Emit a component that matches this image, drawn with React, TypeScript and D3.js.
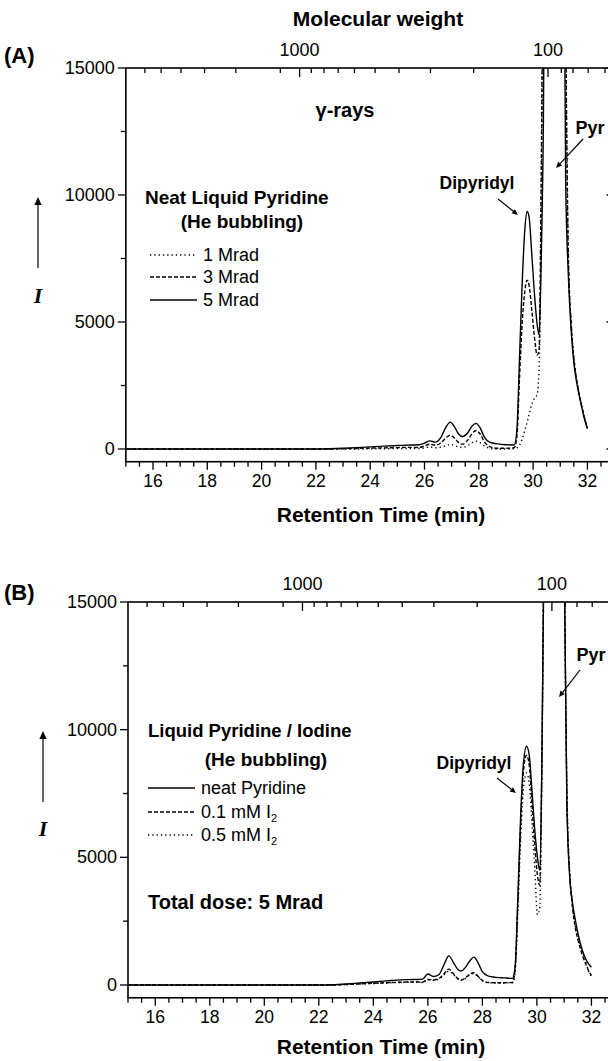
import React from 'react'
import * as d3 from 'd3'

const W = 608
const H = 1061
const SANS = '"Liberation Sans", Arial, Helvetica, sans-serif'

// ---- panel A: neat liquid pyridine, γ-rays, three doses ----
const timeA = [15, 16, 17, 18, 19, 20, 21, 22, 22.5, 23, 23.5, 24, 24.5, 25, 25.5, 25.8, 26.0, 26.2, 26.4, 26.6, 26.8, 26.95, 27.1, 27.25, 27.4, 27.6, 27.75, 27.9, 28.05, 28.2, 28.4, 28.7, 29.0, 29.3, 29.4, 29.5, 29.6, 29.7, 29.78, 29.85, 29.95, 30.05, 30.15, 30.22, 30.3, 30.38, 30.5, 30.8, 31.1, 31.2, 31.3, 31.4, 31.5, 31.6, 31.7, 31.8, 31.9, 32.0]
const mrad1 = [0, 0, 0, 0, 0, 0, 0, 0, 0, 0, 0, 5, 10, 15, 20, 20, 40, 80, 50, 70, 140, 180, 140, 80, 60, 140, 250, 310, 250, 120, 30, 0, 0, 10, 40, 150, 400, 750, 1050, 1350, 1750, 2000, 2150, 3200, 9000, 20000, 40000, 60000, 32000, 15500, 7400, 5000, 3600, 2750, 2150, 1650, 1200, 850]
const mrad3 = [0, 0, 0, 0, 0, 0, 0, 0, 0, 10, 20, 35, 45, 55, 65, 60, 120, 190, 150, 240, 450, 540, 430, 260, 190, 360, 600, 730, 590, 300, 90, 30, 30, 50, 450, 2800, 5000, 6250, 6650, 6450, 5500, 4400, 3700, 3900, 11000, 22000, 40000, 60000, 32000, 17000, 7600, 5000, 3600, 2750, 2150, 1650, 1200, 850]
const mrad5 = [0, 0, 0, 0, 0, 0, 0, 0, 10, 30, 55, 85, 115, 135, 155, 165, 230, 320, 270, 450, 880, 1060, 880, 600, 490, 650, 900, 1010, 830, 480, 270, 200, 170, 160, 700, 3600, 6600, 8700, 9350, 9150, 7700, 6100, 4900, 4500, 7500, 13000, 35000, 60000, 28000, 10500, 6800, 4700, 3400, 2650, 2100, 1600, 1150, 800]

// ---- panel B: pyridine / iodine, 5 Mrad ----
const timeB = [15, 16, 17, 18, 19, 20, 21, 22, 22.5, 23, 23.5, 24, 24.5, 25, 25.5, 25.8, 26.0, 26.2, 26.4, 26.6, 26.77, 26.95, 27.1, 27.23, 27.4, 27.55, 27.69, 27.85, 28.0, 28.2, 28.5, 28.8, 29.1, 29.2, 29.3, 29.4, 29.5, 29.62, 29.72, 29.82, 29.92, 30.02, 30.1, 30.18, 30.25, 30.35, 30.6, 30.9, 31.0, 31.1, 31.2, 31.29, 31.4, 31.5, 31.66, 31.8, 31.9, 32.0]
const neatPyr = [0, 0, 0, 0, 0, 0, 0, 0, 10, 40, 80, 120, 160, 200, 215, 230, 430, 330, 400, 820, 1140, 860, 610, 550, 720, 960, 1090, 850, 520, 360, 300, 280, 260, 700, 3400, 6500, 8600, 9350, 9000, 7600, 6100, 5000, 4500, 8500, 16000, 35000, 60000, 35000, 17000, 7000, 4300, 3350, 2600, 2050, 1380, 1000, 820, 700]
const iodine01 = [0, 0, 0, 0, 0, 0, 0, 0, 0, 20, 40, 70, 90, 110, 120, 110, 220, 200, 250, 450, 620, 420, 250, 200, 300, 430, 480, 330, 180, 100, 90, 90, 100, 600, 3200, 6200, 8300, 9000, 8600, 7100, 5500, 4300, 3900, 8500, 17000, 35000, 60000, 36000, 18000, 7500, 4400, 3200, 2300, 1800, 1200, 800, 550, 380]
const iodine05 = [0, 0, 0, 0, 0, 0, 0, 0, 0, 20, 40, 60, 80, 100, 110, 100, 200, 180, 230, 400, 540, 400, 240, 180, 280, 400, 450, 320, 170, 90, 80, 80, 90, 500, 2800, 5600, 7600, 8300, 7900, 6300, 4600, 2750, 3000, 8000, 16500, 35000, 60000, 36000, 18000, 7800, 4500, 3300, 2400, 1900, 1300, 900, 520, 350]

// ---- axes ----
const timeMajor = [16, 18, 20, 22, 24, 26, 28, 30, 32]
const yMajor = [0, 5000, 10000, 15000]
const yMinor = [2500, 7500, 12500]
// molecular weight calibration (MW -> retention time)
const mwTicks = [6000, 5000, 4000, 3000, 2000, 1250, 1000, 900, 800, 700, 600, 500, 400, 300, 200, 100, 90, 80, 70, 60]
const mwTimes = [15.7, 16.3, 17.03, 17.9, 19.05, 20.69, 21.4, 21.83, 22.3, 22.82, 23.42, 24.18, 25.06, 26.22, 27.81, 30.55, 31.04, 31.47, 32.03, 32.65]
const mwLabeled = [1000, 100]

const DOT = '1.3,3'
const DASH = '4,2'

type Series = { values: number[]; dash?: string }

interface PanelProps {
  id: string
  x0: number
  unit: number
  yTop: number
  yZero: number
  times: number[]
  series: Series[]
  titleY: number
  children?: React.ReactNode
}

const Panel: React.FC<PanelProps> = ({ id, x0, unit, yTop, yZero, times, series, titleY, children }) => {
  const x = d3.scaleLinear().domain([15, 33]).range([x0, x0 + 18 * unit])
  const y = d3.scaleLinear().domain([0, 15000]).range([yZero, yTop])
  const yMin = -500
  const cal = d3.scaleLog().domain(mwTicks).range(mwTimes)
  const xl = x(15)
  const xr = x(33)
  const yb = y(yMin)

  const line = d3.line<number>()
    .x((_, i) => x(times[i]))
    .y(v => y(v))
    .curve(d3.curveMonotoneX)

  const minorT = d3.range(15, 33.01, 0.5)

  return (
    <g>
      <defs>
        <clipPath id={'clip' + id}>
          <rect x={xl} y={yTop} width={xr - xl} height={yb - yTop} />
        </clipPath>
      </defs>
      <g clipPath={`url(#clip${id})`} fill="none" stroke="#000" strokeWidth={1.4}>
        {series.map((s, i) => (
          <path key={i} d={line(s.values) || ''} strokeDasharray={s.dash} />
        ))}
      </g>
      {/* frame */}
      <rect x={xl} y={yTop} width={xr - xl} height={yb - yTop} fill="none" stroke="#000" strokeWidth={1.6} />
      {/* bottom axis */}
      {minorT.map(t => (
        <line key={'bt' + t} x1={x(t)} x2={x(t)} y1={yb} y2={yb + (t % 2 === 0 ? 8 : 5)} stroke="#000" strokeWidth={1.3} />
      ))}
      {timeMajor.map(t => (
        <text key={'bl' + t} x={x(t)} y={yb + 19} textAnchor="middle" dominantBaseline="central" fontFamily={SANS} fontSize={17.5}>{t}</text>
      ))}
      {/* left / right axes */}
      {yMajor.map(v => (
        <g key={'ly' + v}>
          <line x1={xl - 8} x2={xl} y1={y(v)} y2={y(v)} stroke="#000" strokeWidth={1.3} />
          <line x1={xr - 8} x2={xr} y1={y(v)} y2={y(v)} stroke="#000" strokeWidth={1.3} />
          <text x={xl - 11} y={y(v)} textAnchor="end" dominantBaseline="central" fontFamily={SANS} fontSize={18}>{v}</text>
        </g>
      ))}
      {yMinor.map(v => (
        <line key={'lm' + v} x1={xl - 5} x2={xl} y1={y(v)} y2={y(v)} stroke="#000" strokeWidth={1.3} />
      ))}
      {/* top axis: molecular weight */}
      {mwTicks.map(m => {
        const px = x(cal(m))
        const major = mwLabeled.includes(m)
        return (
          <g key={'mw' + m}>
            <line x1={px} x2={px} y1={yTop} y2={yTop + (major ? 9 : 5)} stroke="#000" strokeWidth={1.3} />
            {major && (
              <text x={px} y={yTop - 18} textAnchor="middle" dominantBaseline="central" fontFamily={SANS} fontSize={18}>{m}</text>
            )}
          </g>
        )
      })}
      <text x={381} y={titleY} textAnchor="middle" dominantBaseline="central" fontFamily={SANS} fontSize={21} fontWeight="bold">Retention Time (min)</text>
      {children}
    </g>
  )
}

const Arrow: React.FC<{ x1: number; y1: number; x2: number; y2: number; head?: number }> = ({ x1, y1, x2, y2, head = 6 }) => {
  const a = Math.atan2(y2 - y1, x2 - x1)
  const w = head * 0.45
  const bx = x2 - Math.cos(a) * head
  const by = y2 - Math.sin(a) * head
  const p = `M${x2},${y2} L${bx - Math.sin(a) * w},${by + Math.cos(a) * w} L${bx + Math.sin(a) * w},${by - Math.cos(a) * w} Z`
  return (
    <g>
      <line x1={x1} y1={y1} x2={bx} y2={by} stroke="#000" strokeWidth={1.2} />
      <path d={p} fill="#000" />
    </g>
  )
}

const LegendRow: React.FC<{ x: number; y: number; dash?: string; children: React.ReactNode }> = ({ x, y, dash, children }) => (
  <g>
    <line x1={x} x2={x + 47} y1={y} y2={y} stroke="#000" strokeWidth={1.4} strokeDasharray={dash} />
    <text x={x + 53} y={y} dominantBaseline="central" fontFamily={SANS} fontSize={18}>{children}</text>
  </g>
)

const Iunit: React.FC<{ x: number; yArrowTop: number; yArrowBot: number; yI: number }> = ({ x, yArrowTop, yArrowBot, yI }) => (
  <g>
    <Arrow x1={x} y1={yArrowBot} x2={x} y2={yArrowTop} head={8} />
    <text x={x} y={yI} textAnchor="middle" dominantBaseline="central" fontFamily='"Liberation Serif", "Times New Roman", serif' fontStyle="italic" fontWeight="bold" fontSize={22}>I</text>
  </g>
)

const bold = { fontFamily: SANS, fontWeight: 'bold' as const }

export default function App() {
  return (
    <svg width={W} height={H} viewBox={`0 0 ${W} ${H}`} style={{ position: 'absolute', left: 0, top: 0, background: '#fff' }}>
      <rect width={W} height={H} fill="#fff" />
      {/* (A) */}
      <text x={378} y={18} textAnchor="middle" dominantBaseline="central" fontSize={21} {...bold}>Molecular weight</text>
      <text x={4} y={55} dominantBaseline="central" fontSize={22} {...bold}>(A)</text>
      <Panel
        id="A" x0={125.85} unit={27.15} yTop={68} yZero={449} times={timeA} titleY={514}
        series={[{ values: mrad1, dash: DOT }, { values: mrad3, dash: DASH }, { values: mrad5 }]}
      >
        <text x={345} y={110} textAnchor="middle" dominantBaseline="central" fontSize={20} {...bold}>γ-rays</text>
        <text x={477} y={183} textAnchor="middle" dominantBaseline="central" fontSize={17.5} {...bold}>Dipyridyl</text>
        <Arrow x1={498} y1={199} x2={518} y2={215} />
        <text x={590} y={128} textAnchor="middle" dominantBaseline="central" fontSize={18} {...bold}>Pyr</text>
        <Arrow x1={583} y1={139} x2={556} y2={168} />
        <text x={145} y={197} dominantBaseline="central" fontSize={19} {...bold}>Neat Liquid Pyridine</text>
        <text x={242} y={221} textAnchor="middle" dominantBaseline="central" fontSize={19} {...bold}>(He bubbling)</text>
        <LegendRow x={150} y={255} dash={DOT}>1 Mrad</LegendRow>
        <LegendRow x={150} y={277} dash={DASH}>3 Mrad</LegendRow>
        <LegendRow x={150} y={300}>5 Mrad</LegendRow>
        <Iunit x={38} yArrowTop={197} yArrowBot={268} yI={295} />
      </Panel>

      {/* (B) */}
      <text x={4} y={592} dominantBaseline="central" fontSize={22} {...bold}>(B)</text>
      <Panel
        id="B" x0={128} unit={27.26} yTop={602} yZero={985} times={timeB} titleY={1046}
        series={[{ values: neatPyr }, { values: iodine01, dash: DASH }, { values: iodine05, dash: DOT }]}
      >
        <text x={474} y={763} textAnchor="middle" dominantBaseline="central" fontSize={17.5} {...bold}>Dipyridyl</text>
        <Arrow x1={497} y1={778} x2={516} y2={793} />
        <text x={591} y={655} textAnchor="middle" dominantBaseline="central" fontSize={18} {...bold}>Pyr</text>
        <Arrow x1={580} y1={670} x2={559} y2={697} />
        <text x={148} y={730} dominantBaseline="central" fontSize={18.5} {...bold}>Liquid Pyridine / Iodine</text>
        <text x={266} y={759} textAnchor="middle" dominantBaseline="central" fontSize={19} {...bold}>(He bubbling)</text>
        <LegendRow x={148} y={788}>neat Pyridine</LegendRow>
        <LegendRow x={148} y={812} dash={DASH}>0.1 mM I<tspan fontSize={11} dy={6}>2</tspan></LegendRow>
        <LegendRow x={148} y={835} dash={DOT}>0.5 mM I<tspan fontSize={11} dy={6}>2</tspan></LegendRow>
        <text x={148} y={902} dominantBaseline="central" fontSize={20} {...bold}>Total dose: 5 Mrad</text>
        <Iunit x={43} yArrowTop={731} yArrowBot={802} yI={828} />
      </Panel>
    </svg>
  )
}
